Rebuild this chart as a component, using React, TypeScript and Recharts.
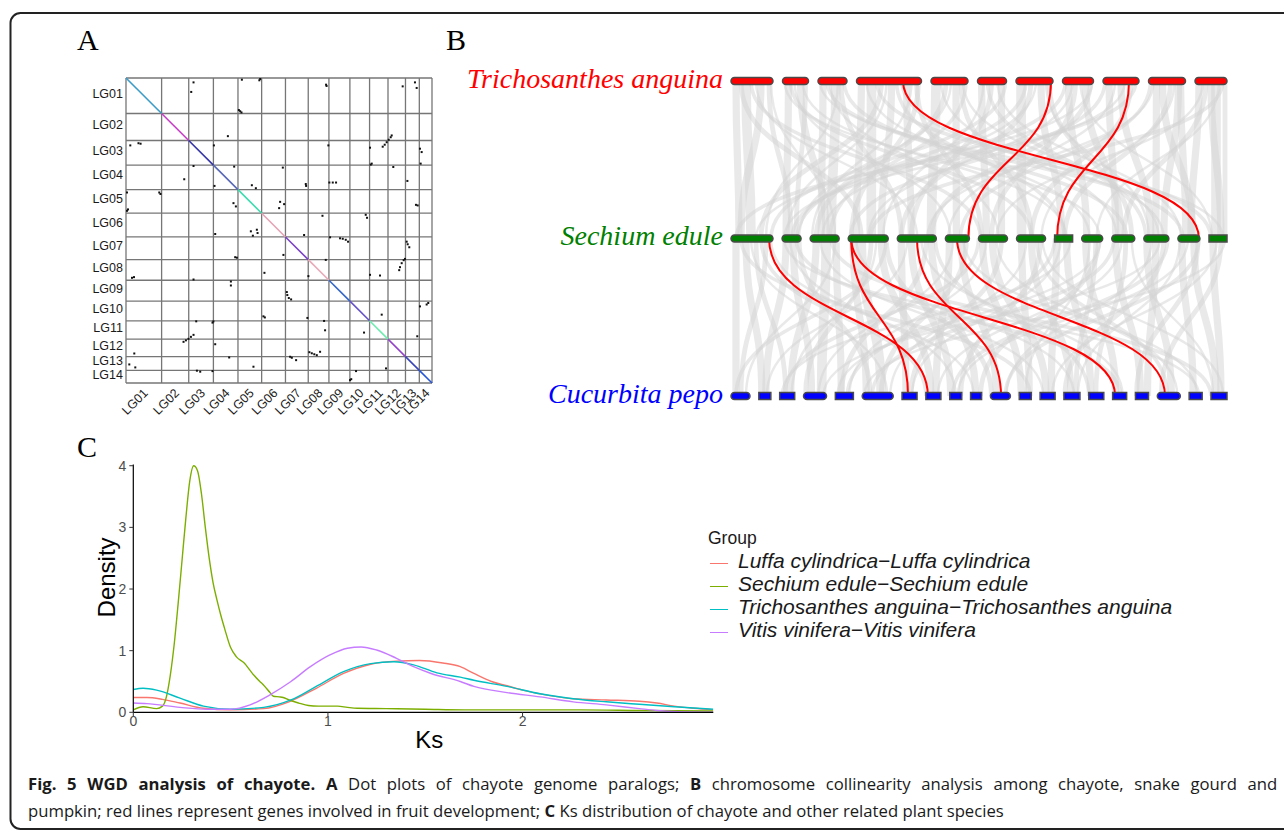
import { Label, Legend, Line, LineChart, ReferenceLine, Scatter, ScatterChart, XAxis, YAxis } from "recharts";

const sans = "'Liberation Sans', Arial, sans-serif";
const serif = "'Liberation Serif', 'Times New Roman', serif";

// ---------- A: chayote self dot plot ----------
const lgNames = ["LG01", "LG02", "LG03", "LG04", "LG05", "LG06", "LG07", "LG08", "LG09", "LG10", "LG11", "LG12", "LG13", "LG14"];
const lgSizes = [35.65, 27.15, 24.7, 24.6, 23.7, 23.85, 22.8, 20.7, 21.0, 19.7, 18.45, 17.5, 13.85, 12.7];
const lgDiagColors = ["#3a9cc8", "#c83cc8", "#3535a8", "#5868b8", "#3adcae", "#e6a2b6", "#7a40c8", "#e8aab8", "#3466c8", "#6652c8", "#6cecae", "#9444c8", "#3844b8", "#2656d8"];
const paralogHits: [number, number][] = [
  [67.6, 4.4], [65.3, 14], [116, 1.7], [134.3, 1], [133.5, 2.3], [200.3, 6.7], [200.8, 8], [277, 8.4], [289.3, 4.4], [291, 10],
  [114.3, 33.4], [113, 32.2], [115.6, 34.6], [102, 58.4], [4.3, 67.7], [12.5, 65.5], [14.6, 66], [88, 67.7], [202.6, 67.7], [244.3, 70],
  [257, 69], [259, 67], [261, 64.5], [263, 62], [265, 59.5], [266, 57.7], [294.3, 71], [296, 74.4],
  [67.6, 88.4], [108.3, 89], [157, 90], [246, 86], [245, 87], [267.6, 89.4], [295, 86],
  [58.3, 101.7], [88.6, 108.4], [126, 107.7], [130, 110.7], [180.3, 108.4], [180, 106.5], [203.6, 105], [207, 105], [210.3, 105], [281.7, 103.4],
  [33.3, 115], [34.5, 116.5], [1, 115], [1, 133.4], [2, 132], [107.6, 125.7], [110, 129], [154.3, 124.4], [153.3, 130.7], [158.3, 126.7], [290.3, 127.4], [292, 128],
  [196.7, 138.4], [240, 137.4], [241.3, 140.4],
  [89.3, 156.7], [125, 154], [131, 152.4], [131.7, 155.7], [127, 158.4], [178.3, 157.7], [204.3, 160], [214.3, 161], [217, 161.5], [220, 162.5], [222.3, 164.4], [281, 164.4], [283.6, 170], [282, 167],
  [109.3, 180], [111, 180.5], [157.6, 177.7], [200, 182.7], [274.3, 190], [276, 186], [278, 183], [279.3, 181.7], [273.5, 193],
  [6, 200.7], [8, 200], [138.6, 195.7], [182.6, 199], [244.3, 197.7], [254.3, 198.4],
  [67.6, 202.4], [105, 204.4], [105, 208.4], [161, 215], [161.5, 218], [163, 221], [165.3, 222.4],
  [294.3, 229.4], [302.6, 226], [301, 227.5], [137.6, 239.4], [139, 240.5], [181.6, 241], [256, 237.7],
  [70.3, 244.4], [86.6, 245.7], [87.5, 244.5], [198.3, 244], [199.3, 253.4], [238.3, 255.7], [291.6, 259.4],
  [57.6, 265], [60, 263.5], [62.5, 262], [65, 260], [67.6, 258], [89.3, 267.4],
  [8.3, 276.7], [103.3, 280.7], [164.3, 280], [166, 281], [170.3, 283.4], [183.6, 275.4], [186, 276.5], [188.5, 277.5], [191, 278.4], [194.3, 275],
  [3.3, 287.7], [9.3, 290.7], [127.6, 290], [71, 294], [74.3, 295], [86.6, 294.4], [224.3, 303.4], [225.5, 302.5], [230.3, 294.4], [260.3, 291.7],
];

const lgStarts: number[] = [];
lgSizes.forEach((s, i) => lgStarts.push(i === 0 ? 0 : lgStarts[i - 1] + lgSizes[i - 1]));
const genomeLen = lgSizes.reduce((a, b) => a + b, 0);
const lgMids = lgStarts.map((s, i) => s + lgSizes[i] / 2);
const lgBounds = [...lgStarts, genomeLen];

function lgName(v: number) {
  const i = lgMids.findIndex((m) => Math.abs(m - v) < 1e-6);
  return lgNames[i] ?? "";
}

function LgXTick(props: any) {
  const { x, y, payload } = props;
  const tx = x + 2;
  const ty = y + 8;
  return (
    <text x={tx} y={ty} transform={`rotate(-45 ${tx} ${ty})`} textAnchor="end" dominantBaseline="central" fontFamily={sans} fontSize={12.5} fill="#1a1a1a">
      {lgName(payload.value)}
    </text>
  );
}

function LgYTick(props: any) {
  const { x, y, payload } = props;
  return (
    <text x={x} y={y - 2} textAnchor="end" dominantBaseline="central" fontFamily={sans} fontSize={12.5} fill="#1a1a1a">
      {lgName(payload.value)}
    </text>
  );
}

function DotPlot() {
  const hits = paralogHits.map(([x, y]) => ({ x, y }));
  return (
    <ScatterChart width={400} height={360} margin={{ top: 18, right: 28, bottom: 0, left: 0 }}>
      <XAxis type="number" dataKey="x" domain={[0, genomeLen]} ticks={lgMids} interval={0} axisLine={false} tickLine={false} tickSize={0} tickMargin={0} height={37} tick={<LgXTick />} allowDataOverflow />
      <YAxis type="number" dataKey="y" domain={[0, genomeLen]} reversed ticks={lgMids} interval={0} axisLine={false} tickLine={false} tickSize={0} tickMargin={3} width={66} tick={<LgYTick />} allowDataOverflow />
      {lgBounds.map((b) => (
        <ReferenceLine key={`vx${b}`} x={b} stroke="#767676" strokeWidth={1.3} ifOverflow="visible" />
      ))}
      {lgBounds.map((b) => (
        <ReferenceLine key={`hy${b}`} y={b} stroke="#767676" strokeWidth={1.3} ifOverflow="visible" />
      ))}
      {lgStarts.map((s, i) => (
        <ReferenceLine
          key={`d${i}`}
          segment={[{ x: s, y: s }, { x: s + lgSizes[i], y: s + lgSizes[i] }]}
          stroke={lgDiagColors[i]}
          strokeWidth={1.6}
          ifOverflow="visible"
        />
      ))}
      <Scatter
        data={hits}
        isAnimationActive={false}
        shape={(p: any) => <rect x={p.cx - 1} y={p.cy - 1} width={2} height={2} fill="#111" />}
      />
    </ScatterChart>
  );
}

// ---------- B: collinearity among three genomes ----------
const speciesNames = ["Trichosanthes anguina", "Sechium edule", "Cucurbita pepo"];
const speciesColors = ["#ff0000", "#008000", "#0000ff"];
const taSizes = [42, 26, 29, 65, 37, 29, 37, 31, 36, 37, 32];
const seSizes = [42, 19, 29, 40, 39, 24, 29, 29, 18, 21, 23, 25, 22, 18];
const cpSizes = [19, 12, 15, 23, 18, 31, 15, 15, 12, 11, 20, 12, 15, 16, 15, 14, 13, 23, 13, 16];
const trackLen = 496;

// [chr above, position, chr below, position, block size]
const taSeBlocks: number[][] = [
  [1, 5, 1, 8, 3], [1, 15, 1, 20, 4], [1, 30, 1, 10, 3], [1, 38, 2, 9, 2], [1, 10, 4, 13, 2],
  [2, 6, 2, 4, 3], [2, 18, 3, 16, 3], [2, 23, 2, 14, 2], [3, 5, 3, 11, 3], [3, 18, 3, 21, 4], [3, 23, 5, 4, 2],
  [4, 5, 4, 8, 3], [4, 15, 4, 23, 4], [4, 25, 1, 30, 2], [4, 35, 4, 33, 3], [4, 50, 5, 14, 3], [4, 60, 7, 3, 2], [4, 62, 4, 3, 2],
  [5, 5, 5, 34, 4], [5, 15, 3, 6, 2], [5, 25, 6, 11, 3], [5, 30, 8, 15, 2],
  [6, 4, 7, 8, 3], [6, 14, 5, 14, 2], [6, 24, 7, 23, 3],
  [7, 5, 8, 5, 4], [7, 15, 5, 4, 2], [7, 25, 9, 7, 3], [7, 33, 11, 20, 2],
  [8, 6, 10, 5, 3], [8, 13, 7, 13, 2], [8, 23, 11, 9, 3], [8, 28, 5, 34, 2],
  [9, 6, 11, 4, 3], [9, 18, 12, 7, 3], [9, 28, 8, 15, 2], [9, 33, 1, 5, 1.5],
  [10, 8, 12, 12, 3], [10, 14, 13, 15, 3], [10, 22, 9, 10, 2], [10, 32, 13, 8, 3], [10, 30, 12, 20, 3],
  [11, 4, 13, 13, 3], [11, 11, 11, 12, 2], [11, 21, 14, 7, 4], [11, 28, 4, 22, 1.5], [11, 16, 14, 12, 3], [11, 30, 14, 16, 2],
  [1, 20, 7, 2, 1.5], [2, 8, 8, 15, 1.5], [3, 9, 13, 5, 1.5], [4, 20, 14, 2, 1.5], [5, 35, 3, 20, 1.5], [6, 28, 1, 40, 1.5],
  [8, 3, 2, 10, 1.5], [10, 2, 6, 15, 1.5], [4, 40, 9, 10, 1.5], [6, 10, 12, 2, 1.5], [9, 2, 4, 2, 1.5], [3, 26, 11, 15, 1.5], [7, 10, 2, 15, 1.5],
  [1, 25, 5, 20, 1], [1, 40, 3, 25, 1], [2, 12, 6, 5, 1], [2, 20, 9, 12, 1], [3, 12, 7, 20, 1], [3, 20, 1, 35, 1], [4, 10, 10, 8, 1],
  [4, 30, 2, 5, 1], [4, 45, 12, 20, 1], [4, 55, 3, 2, 1], [5, 10, 11, 5, 1], [5, 20, 2, 17, 1], [6, 6, 4, 35, 1], [6, 20, 13, 3, 1],
  [7, 20, 3, 12, 1], [7, 30, 12, 5, 1], [8, 10, 4, 20, 1], [8, 18, 14, 3, 1], [9, 12, 6, 3, 1], [9, 22, 2, 2, 1], [10, 5, 5, 30, 1],
  [10, 26, 8, 25, 1], [11, 8, 7, 18, 1], [11, 24, 10, 15, 1], [2, 2, 10, 18, 1], [3, 2, 14, 14, 1], [5, 32, 12, 15, 1], [8, 30, 1, 25, 1],
];
const seCpBlocks: number[][] = [
  [1, 5, 1, 5, 3], [1, 15, 2, 3, 3], [1, 25, 3, 6, 2], [1, 35, 1, 10, 2],
  [2, 4, 2, 7, 3], [2, 11, 4, 8, 3], [2, 17, 6, 8, 2],
  [3, 6, 3, 11, 3], [3, 16, 4, 18, 4], [3, 26, 5, 6, 3],
  [4, 5, 6, 4, 3], [4, 13, 6, 19, 4], [4, 23, 4, 2, 2], [4, 33, 8, 5, 3], [4, 38, 11, 1, 2],
  [5, 4, 7, 4, 3], [5, 14, 9, 1, 3], [5, 29, 5, 6, 2], [5, 34, 10, 5, 3],
  [6, 4, 8, 10, 3], [6, 16, 11, 6, 3], [6, 21, 6, 19, 2],
  [7, 4, 12, 2, 3], [7, 14, 13, 6, 3], [7, 23, 7, 9, 2],
  [8, 5, 12, 10, 3], [8, 15, 14, 7, 3], [8, 24, 9, 11, 2],
  [9, 2, 13, 11, 3], [9, 12, 15, 2, 3],
  [10, 4, 16, 3, 3], [10, 14, 14, 12, 2], [10, 17, 10, 10, 2],
  [11, 4, 17, 5, 3], [11, 14, 15, 7, 2],
  [12, 3, 18, 14, 3], [12, 12, 17, 12, 3], [12, 20, 14, 1, 2],
  [13, 4, 19, 4, 3], [13, 16, 20, 5, 3], [13, 20, 17, 1, 2],
  [14, 4, 20, 10, 3], [14, 12, 18, 4, 2],
  [1, 10, 12, 11, 1.5], [2, 14, 16, 8, 1.5], [3, 21, 20, 0, 1.5], [4, 38, 1, 5, 1.5], [7, 0, 3, 5, 1.5], [8, 20, 18, 10, 1.5],
  [9, 0, 5, 12, 1.5], [11, 2, 6, 10, 1.5], [12, 24, 9, 3, 1.5], [13, 21, 11, 15, 1.5], [1, 30, 8, 0, 1.5], [5, 38, 15, 0, 1.5],
  [1, 20, 6, 25, 1], [1, 40, 10, 3, 1], [2, 8, 9, 6, 1], [3, 10, 13, 3, 1], [3, 25, 1, 15, 1], [4, 8, 14, 10, 1], [4, 28, 3, 12, 1],
  [5, 10, 2, 8, 1], [5, 24, 16, 10, 1], [6, 8, 4, 15, 1], [6, 18, 19, 8, 1], [7, 8, 5, 14, 1], [7, 18, 18, 20, 1], [8, 10, 6, 28, 1],
  [8, 26, 20, 12, 1], [9, 6, 7, 10, 1], [9, 16, 3, 2, 1], [10, 8, 12, 6, 1], [10, 19, 5, 2, 1], [11, 10, 8, 12, 1], [11, 20, 20, 2, 1],
  [12, 8, 11, 16, 1], [12, 16, 4, 20, 1], [13, 10, 9, 8, 1], [13, 2, 14, 14, 1], [14, 8, 13, 12, 1], [14, 16, 6, 2, 1], [2, 2, 19, 10, 1],
];
// fruit-development genes
const taSeFruit: number[][] = [[4, 46.5, 13, 21], [7, 35, 6, 23], [9, 26, 9, 2.5]];
const seCpFruit: number[][] = [[1, 38, 8, 2], [4, 3, 7, 6], [4, 3, 16, 2.5], [5, 19.7, 11, 10.6], [6, 11.6, 18, 7.7]];

function trackStarts(sizes: number[]) {
  const total = sizes.reduce((a, b) => a + b, 0);
  const gap = (trackLen - total) / (sizes.length - 1);
  const out: number[] = [];
  sizes.forEach((s, i) => out.push(i === 0 ? 0 : out[i - 1] + sizes[i - 1] + gap));
  return out;
}
const trackSizes = [taSizes, seSizes, cpSizes];
const trackStartList = trackSizes.map(trackStarts);

function blockSegment(row: number, b: number[]) {
  return [
    { x: trackStartList[row][b[0] - 1] + b[1], y: row },
    { x: trackStartList[row + 1][b[2] - 1] + b[3], y: row + 1 },
  ];
}

function linkShape(p: any) {
  const { x1, y1, x2, y2, stroke, strokeWidth, strokeOpacity } = p;
  const my = (y1 + y2) / 2;
  return (
    <path d={`M${x1},${y1} C${x1},${my} ${x2},${my} ${x2},${y2}`} fill="none" stroke={stroke} strokeWidth={strokeWidth} strokeOpacity={strokeOpacity} />
  );
}

function chromShape(color: string, rounded: boolean) {
  return (p: any) => {
    const { x1, x2, y1 } = p;
    const h = 7;
    return (
      <rect x={x1} y={y1 - h / 2} width={x2 - x1} height={h} rx={rounded ? h / 2 : 0} fill={color} stroke="#4a4a4a" strokeWidth={1.5} />
    );
  };
}

function SpeciesTick(props: any) {
  const { x, y, payload } = props;
  const i = Math.round(payload.value);
  return (
    <text x={x} y={y} dy={i === 1 ? 6 : 7} textAnchor="end" fontFamily={serif} fontStyle="italic" fontSize={28} fill={speciesColors[i]}>
      {speciesNames[i]}
    </text>
  );
}

function Synteny() {
  const chromStarts = trackStartList.flatMap((starts, row) => starts.map((x) => ({ x, y: row })));
  return (
    <ScatterChart width={820} height={400} margin={{ top: 41, right: 33, bottom: 44, left: 0 }}>
      <XAxis type="number" dataKey="x" domain={[0, trackLen]} hide allowDataOverflow />
      <YAxis type="number" dataKey="y" domain={[0, 2]} reversed ticks={[0, 1, 2]} interval={0} width={291} axisLine={false} tickLine={false} tickSize={0} tickMargin={8} tick={<SpeciesTick />} allowDataOverflow />
      <Scatter data={chromStarts} isAnimationActive={false} shape={() => <g />} />
      {taSeBlocks.map((b, i) => (
        <ReferenceLine key={`g0-${i}`} segment={blockSegment(0, b)} stroke="#d4d4d4" strokeOpacity={0.5} strokeWidth={b[4] * 2.4} shape={linkShape} ifOverflow="visible" />
      ))}
      {seCpBlocks.map((b, i) => (
        <ReferenceLine key={`g1-${i}`} segment={blockSegment(1, b)} stroke="#d4d4d4" strokeOpacity={0.5} strokeWidth={b[4] * 2.4} shape={linkShape} ifOverflow="visible" />
      ))}
      {taSeFruit.map((b, i) => (
        <ReferenceLine key={`r0-${i}`} segment={blockSegment(0, b)} stroke="#ff0000" strokeWidth={2} shape={linkShape} ifOverflow="visible" />
      ))}
      {seCpFruit.map((b, i) => (
        <ReferenceLine key={`r1-${i}`} segment={blockSegment(1, b)} stroke="#ff0000" strokeWidth={2} shape={linkShape} ifOverflow="visible" />
      ))}
      {trackSizes.map((sizes, row) =>
        sizes.map((s, i) => (
          <ReferenceLine
            key={`c${row}-${i}`}
            segment={[{ x: trackStartList[row][i], y: row }, { x: trackStartList[row][i] + s, y: row }]}
            shape={chromShape(speciesColors[row], s >= 19)}
            ifOverflow="visible"
          />
        )),
      )}
    </ScatterChart>
  );
}

// ---------- C: Ks distribution ----------
const luffaKs = [0, 0.07, 0.15, 0.24, 0.36, 0.5, 0.67, 0.8, 0.94, 1.08, 1.22, 1.35, 1.47, 1.59, 1.68, 1.75, 1.84, 1.92, 2.0, 2.14, 2.26, 2.43, 2.6, 2.69, 2.78, 2.88, 2.98];
const luffaDensity = [0.24, 0.24, 0.21, 0.15, 0.065, 0.04, 0.06, 0.17, 0.39, 0.63, 0.78, 0.83, 0.84, 0.8, 0.74, 0.63, 0.5, 0.43, 0.36, 0.27, 0.22, 0.2, 0.18, 0.15, 0.1, 0.065, 0.04];
const sechiumKs = [0, 0.05, 0.12, 0.15, 0.17, 0.19, 0.21, 0.23, 0.25, 0.27, 0.29, 0.31, 0.33, 0.35, 0.37, 0.39, 0.41, 0.43, 0.45, 0.47, 0.5, 0.53, 0.57, 0.6, 0.62, 0.65, 0.67, 0.7, 0.72, 0.75, 0.77, 0.8, 0.85, 0.9, 0.95, 1.0, 1.05, 1.1, 1.15, 1.3, 1.5, 1.7, 2.0, 2.3, 2.6, 2.98];
const sechiumDensity = [0.04, 0.09, 0.06, 0.1, 0.25, 0.6, 1.1, 1.75, 2.45, 3.15, 3.75, 4.0, 3.92, 3.55, 3.0, 2.5, 2.1, 1.82, 1.57, 1.35, 1.05, 0.9, 0.8, 0.68, 0.6, 0.5, 0.44, 0.33, 0.26, 0.25, 0.24, 0.2, 0.15, 0.11, 0.1, 0.1, 0.1, 0.08, 0.065, 0.06, 0.05, 0.04, 0.04, 0.04, 0.03, 0.02];
const trichoKs = [0, 0.05, 0.12, 0.24, 0.36, 0.5, 0.67, 0.81, 0.94, 1.08, 1.22, 1.34, 1.44, 1.56, 1.68, 1.75, 1.92, 2.09, 2.26, 2.43, 2.6, 2.78, 2.98];
const trichoDensity = [0.37, 0.39, 0.36, 0.23, 0.1, 0.05, 0.08, 0.2, 0.42, 0.66, 0.79, 0.82, 0.77, 0.64, 0.57, 0.52, 0.42, 0.3, 0.22, 0.17, 0.13, 0.09, 0.05];
const vitisKs = [0, 0.07, 0.24, 0.38, 0.5, 0.6, 0.7, 0.81, 0.91, 1.01, 1.1, 1.17, 1.25, 1.35, 1.44, 1.53, 1.68, 1.75, 1.92, 2.09, 2.26, 2.43, 2.6, 2.69, 2.8, 2.98];
const vitisDensity = [0.15, 0.14, 0.08, 0.05, 0.05, 0.12, 0.28, 0.5, 0.74, 0.93, 1.04, 1.06, 1.01, 0.88, 0.74, 0.63, 0.5, 0.42, 0.32, 0.25, 0.17, 0.12, 0.06, 0.03, 0.01, 0];

const groups = [
  { name: "Luffa cylindrica\u2212Luffa cylindrica", ks: luffaKs, density: luffaDensity, color: "#F8766D" },
  { name: "Sechium edule\u2212Sechium edule", ks: sechiumKs, density: sechiumDensity, color: "#7CAE00" },
  { name: "Trichosanthes anguina\u2212Trichosanthes anguina", ks: trichoKs, density: trichoDensity, color: "#00BFC4" },
  { name: "Vitis vinifera\u2212Vitis vinifera", ks: vitisKs, density: vitisDensity, color: "#C77CFF" },
];

function GroupLegend(props: any) {
  const items = props.payload ?? [];
  return (
    <div style={{ fontFamily: sans, color: "#1a1a1a", textAlign: "left" }}>
      <div style={{ fontSize: 17.5, lineHeight: "22px", height: 22 }}>Group</div>
      {items.map((it: any) => {
        const color = groups.find((g) => g.name === it.value)?.color ?? it.color;
        return (
          <div key={it.value} style={{ position: "relative", height: 23, lineHeight: "23px", fontSize: 21, fontStyle: "italic", whiteSpace: "nowrap" }}>
            <span style={{ position: "absolute", left: 2, top: 13.5, width: 18, height: 1.6, background: color }} />
            <span style={{ marginLeft: 30 }}>{it.value}</span>
          </div>
        );
      })}
    </div>
  );
}

function KsDensity() {
  return (
    <LineChart width={1224} height={330} margin={{ top: 24.5, right: 570.7, bottom: 0, left: 0 }}>
      <XAxis
        type="number"
        dataKey="ks"
        domain={[0, 2.98]}
        ticks={[0, 1, 2]}
        allowDataOverflow
        height={57.7}
        axisLine={{ stroke: "#000", strokeWidth: 1.2 }}
        tickLine={{ stroke: "#333" }}
        tickSize={4}
        tickMargin={0}
        tick={{ fill: "#4d4d4d", fontSize: 14, fontFamily: sans }}
      >
        <Label
          content={(p: any) => (
            <text x={p.viewBox.x + p.viewBox.width / 2 + 6} y={p.viewBox.y + 36} textAnchor="middle" fontFamily={sans} fontSize={24} fill="#000">
              Ks
            </text>
          )}
        />
      </XAxis>
      <YAxis
        type="number"
        domain={[0, 4.02]}
        ticks={[0, 1, 2, 3, 4]}
        allowDataOverflow
        width={73.3}
        axisLine={{ stroke: "#000", strokeWidth: 1.2 }}
        tickLine={{ stroke: "#333" }}
        tickSize={4}
        tickMargin={3}
        tick={{ fill: "#4d4d4d", fontSize: 14, fontFamily: sans }}
      >
        <Label
          content={(p: any) => {
            const tx = p.viewBox.x + 55;
            const ty = p.viewBox.y + p.viewBox.height / 2 - 11;
            return (
              <text x={tx} y={ty} transform={`rotate(-90 ${tx} ${ty})`} textAnchor="middle" fontFamily={sans} fontSize={24} fill="#000">
                Density
              </text>
            );
          }}
        />
      </YAxis>
      <Legend layout="vertical" align="center" verticalAlign="middle" content={<GroupLegend />} wrapperStyle={{ position: "absolute", left: 648, top: 87, width: 560 }} />
      {groups.map((g) => (
        <Line
          key={g.name}
          name={g.name}
          data={g.ks.map((k, i) => ({ ks: k, density: g.density[i] }))}
          dataKey="density"
          type="monotone"
          stroke={g.color}
          strokeWidth={1.4}
          dot={false}
          activeDot={false}
          isAnimationActive={false}
        />
      ))}
    </LineChart>
  );
}

export default function App() {
  const caption = { fontFamily: "'Open Sans', sans-serif", fontSize: 16.7, fill: "#1a1a1a" };
  return (
    <div style={{ position: "absolute", left: 0, top: 0, width: 1284, height: 831, background: "#fff", overflow: "hidden" }}>
      <svg width={1284} height={831} style={{ position: "absolute", left: 0, top: 0 }}>
        <rect x={10.5} y={13} width={1300} height={816} rx={10} fill="none" stroke="#222" strokeWidth={2} />
        <text x={77} y={50} fontFamily={serif} fontSize={30} fill="#000">A</text>
        <text x={446} y={50} fontFamily={serif} fontSize={30} fill="#000">B</text>
        <text x={77} y={457} fontFamily={serif} fontSize={30} fill="#000">C</text>
        <text x={28} y={790} {...caption} style={{ wordSpacing: "6.3px" }}>
          <tspan fontWeight={700}>Fig. 5 WGD analysis of chayote.</tspan>
          {" "}
          <tspan fontWeight={700}>A</tspan>
          {" Dot plots of chayote genome paralogs; "}
          <tspan fontWeight={700}>B</tspan>
          {" chromosome collinearity analysis among chayote, snake gourd and"}
        </text>
        <text x={28} y={817} {...caption}>
          {"pumpkin; red lines represent genes involved in fruit development; "}
          <tspan fontWeight={700}>C</tspan>
          {" Ks distribution of chayote and other related plant species"}
        </text>
      </svg>
      <div style={{ position: "absolute", left: 60, top: 60 }}>
        <DotPlot />
      </div>
      <div style={{ position: "absolute", left: 440, top: 40 }}>
        <Synteny />
      </div>
      <div style={{ position: "absolute", left: 60, top: 440 }}>
        <KsDensity />
      </div>
    </div>
  );
}
